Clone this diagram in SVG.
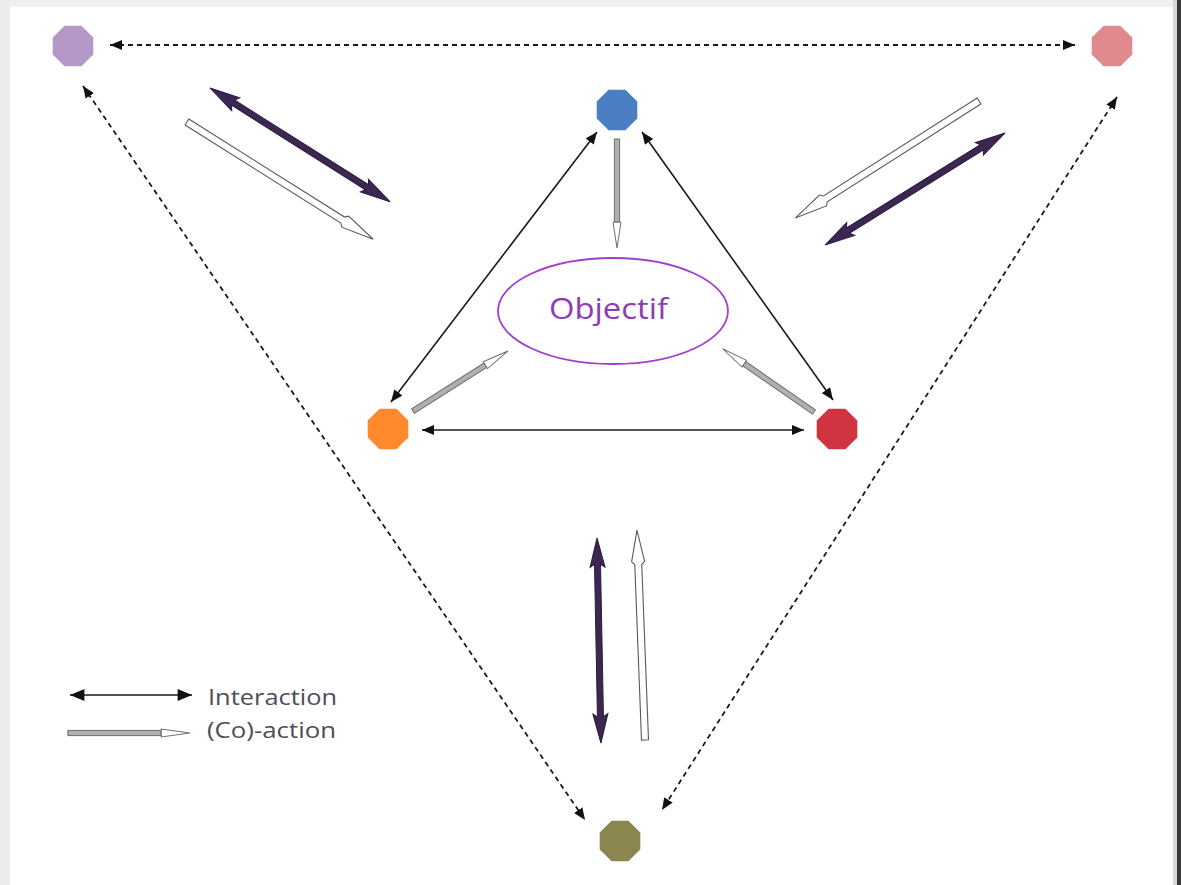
<svg xmlns="http://www.w3.org/2000/svg" width="1181" height="885" viewBox="0 0 1181 885">
  <style>
    .dash { fill: none; stroke: #1a1a1a; stroke-width: 1.8; stroke-dasharray: 5 4; }
    .inter { fill: none; stroke: #1a1a1a; stroke-width: 1.6; }
    .heavy { fill: #3b2752; stroke: #2a1a3e; stroke-width: 1; }
    .hollow { fill: #ffffff; stroke: #5a5a5a; stroke-width: 1.1; }
    .shaft { fill: #b0b0b0; stroke: #6e6e6e; stroke-width: 1; }
    .tip { fill: #ffffff; stroke: #6e6e6e; stroke-width: 1; }
    .legend { font-family: "Open Sans", "Liberation Sans", sans-serif; font-size: 22px; font-weight: 500; fill: #4d4d55; }
    .goal { font-family: "Open Sans", "Liberation Sans", sans-serif; font-size: 30px; font-weight: 500; fill: #8e3bb5; }
  </style>
  <defs>
    <marker id="head" viewBox="0 0 12 10" refX="12" refY="5" markerWidth="12" markerHeight="10" markerUnits="userSpaceOnUse" orient="auto-start-reverse">
      <path d="M0,0 L12,5 L0,10 Z" fill="#111"/>
    </marker>
    <marker id="headSmall" viewBox="0 0 12 10" refX="12" refY="5" markerWidth="13" markerHeight="10" markerUnits="userSpaceOnUse" orient="auto-start-reverse">
      <path d="M0,0 L12,5 L0,10 Z" fill="#111"/>
    </marker>
    <marker id="headLegend" viewBox="0 0 12 10" refX="12" refY="5" markerWidth="15" markerHeight="12" markerUnits="userSpaceOnUse" orient="auto-start-reverse">
      <path d="M0,0 L12,5 L0,10 Z" fill="#111"/>
    </marker>
    <!-- octagon node shape -->
    <polygon id="oct" points="20.3,8.4 8.4,20.3 -8.4,20.3 -20.3,8.4 -20.3,-8.4 -8.4,-20.3 8.4,-20.3 20.3,-8.4"/>
    <!-- heavy double-headed arrow, length 210 along x -->
    <path id="heavy2" d="M0,0 L30,-7.5 L27,-3 L183,-3 L180,-7.5 L210,0 L180,7.5 L183,3 L27,3 L30,7.5 Z"/>
    <!-- hollow single arrow, tail at 0, tip at 220 -->
    <path id="hollow1" d="M0,-3.5 L184,-3.5 L187,-6.5 L220,0 L187,6.5 L184,3.5 L0,3.5 Z"/>
    <!-- small co-action arrow, tail at 0, tip at 110 -->
    <g id="coact">
      <rect x="0" y="-2.6" width="84" height="5.2" class="shaft"/>
      <path d="M84,-2.6 L84,-4 L110,0 L84,4 L84,2.6 Z" class="tip"/>
    </g>
  </defs>

  <!-- page frame -->
  <rect x="0" y="0" width="1181" height="885" fill="#ffffff"/>
  <rect x="0" y="0" width="1181" height="7" fill="#f0f0f0"/>
  <rect x="0" y="0" width="10" height="885" fill="#ececec"/>
  <rect x="1173" y="0" width="4" height="885" fill="#d8d8d8"/>
  <rect x="1177" y="0" width="4" height="885" fill="#3a3a3a"/>

  <!-- connectors -->
  <g id="connectors">
    <!-- outer dashed triangle -->
    <line class="dash" x1="110" y1="45" x2="1075" y2="45" marker-start="url(#head)" marker-end="url(#head)"/>
    <line class="dash" x1="83" y1="86" x2="585" y2="820" marker-start="url(#head)" marker-end="url(#head)"/>
    <line class="dash" x1="1117" y1="97" x2="662" y2="810" marker-start="url(#head)" marker-end="url(#head)"/>

    <!-- inner interactions -->
    <line class="inter" x1="391" y1="402" x2="597" y2="132" marker-start="url(#headSmall)" marker-end="url(#headSmall)"/>
    <line class="inter" x1="642" y1="132" x2="833" y2="400" marker-start="url(#headSmall)" marker-end="url(#headSmall)"/>
    <line class="inter" x1="422" y1="430" x2="804" y2="430" marker-start="url(#headSmall)" marker-end="url(#headSmall)"/>

    <!-- co-actions toward the objective -->
    <use href="#coact" transform="translate(617,139) rotate(90) scale(0.99,1)"/>
    <use href="#coact" transform="translate(413,411) rotate(-32.3) scale(1.02,1)"/>
    <use href="#coact" transform="translate(814,412) rotate(-145.3) scale(1.01,1)"/>

    <!-- heavy interactions between outer actors -->
    <use href="#heavy2" class="heavy" transform="translate(210,88) rotate(32.3) scale(1.015,1)"/>
    <use href="#heavy2" class="heavy" transform="translate(825,245) rotate(-31.9) scale(1.01,1)"/>
    <use href="#heavy2" class="heavy" transform="translate(597,538) rotate(88.9) scale(0.977,1)"/>

    <!-- hollow co-actions between outer actors -->
    <use href="#hollow1" class="hollow" transform="translate(187,122) rotate(32.2) scale(1.0,1)"/>
    <use href="#hollow1" class="hollow" transform="translate(979,101) rotate(147.5) scale(0.99,1)"/>
    <use href="#hollow1" class="hollow" transform="translate(645,740) rotate(267.8) scale(0.955,1)"/>
  </g>

  <!-- nodes -->
  <g id="node-purple"><use href="#oct" transform="translate(73,46)" fill="#b498c8"/></g>
  <g id="node-pink"><use href="#oct" transform="translate(1112,46)" fill="#e08a8f"/></g>
  <g id="node-blue"><use href="#oct" transform="translate(617,110)" fill="#4a7fc3"/></g>
  <g id="node-orange"><use href="#oct" transform="translate(388,429)" fill="#ff8a2e"/></g>
  <g id="node-red"><use href="#oct" transform="translate(837,429)" fill="#cf3440"/></g>
  <g id="node-olive"><use href="#oct" transform="translate(620,841)" fill="#8b8550"/></g>

  <g id="node-objectif">
    <ellipse cx="613" cy="311" rx="115" ry="53" fill="#ffffff" stroke="#a43ccc" stroke-width="1.8"/>
    <text class="goal" x="549" y="319" textLength="119" lengthAdjust="spacingAndGlyphs">Objectif</text>
  </g>

  <!-- legend -->
  <g id="legend">
    <line class="inter" x1="70" y1="695" x2="192" y2="695" marker-start="url(#headLegend)" marker-end="url(#headLegend)"/>
    <use href="#coact" transform="translate(68,733) scale(1.11,1)"/>
    <text class="legend" x="208" y="705" textLength="129" lengthAdjust="spacingAndGlyphs">Interaction</text>
    <text class="legend" x="207" y="738" textLength="129" lengthAdjust="spacingAndGlyphs">(Co)-action</text>
  </g>
</svg>
